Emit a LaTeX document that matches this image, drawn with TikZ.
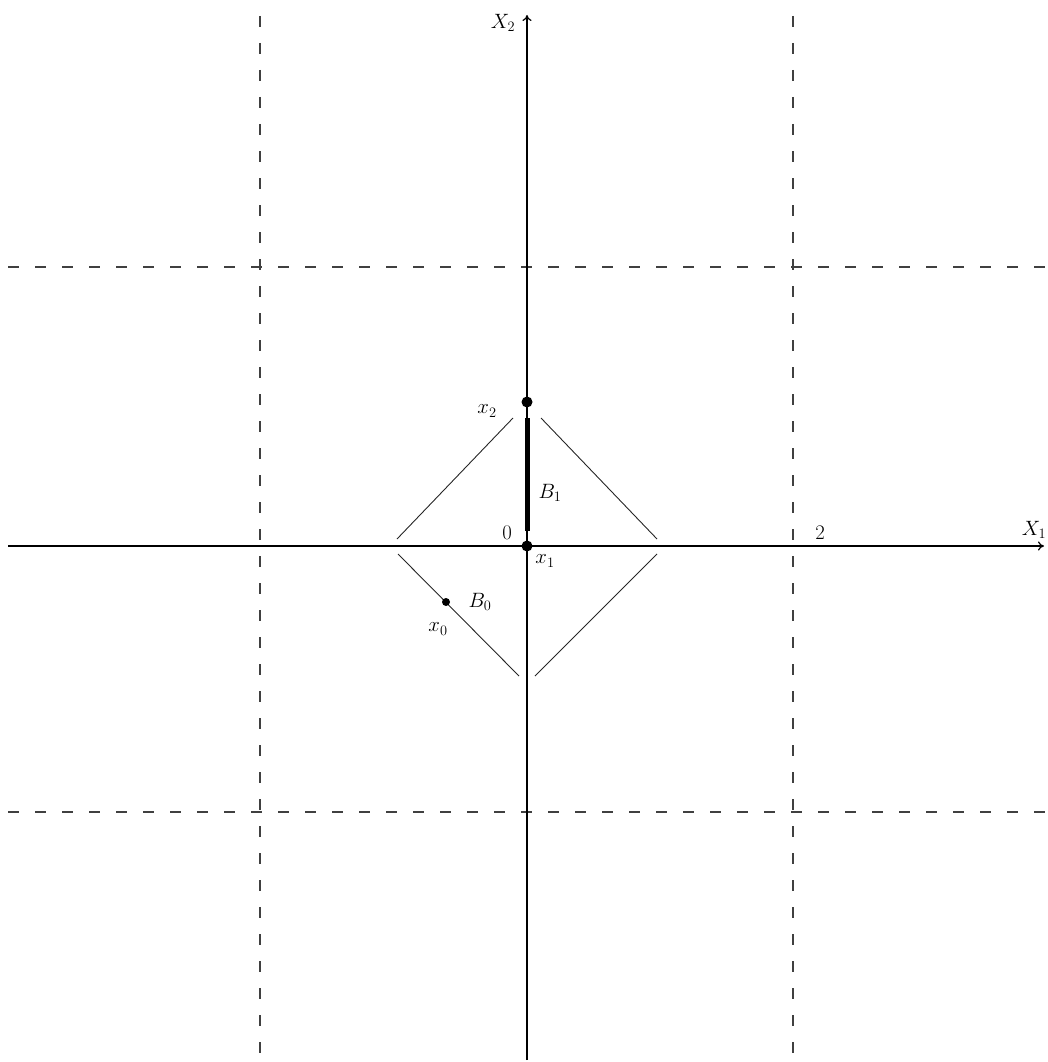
\documentclass[tikz,border=0pt]{standalone}
\usetikzlibrary{arrows.meta}
\begin{document}
\begin{tikzpicture}[x=1pt,y=-1pt,
  grid/.style={draw=black!75,line width=1.2pt,dash pattern=on 11pt off 16pt},
  axis/.style={draw=black,line width=2pt,-{To[length=6pt,width=9pt,line width=1.2pt,open]}},
  thin/.style={draw=black!85,line width=0.9pt},
  lbl/.style={font=\fontsize{20}{24}\selectfont,inner sep=0pt},
  dot/.style={circle,fill=black,inner sep=0pt,minimum size=#1}]
\useasboundingbox (0,0) rectangle (1047,1062);
% grid
\draw[grid] (260,16) -- (260,1062);
\draw[grid] (793,16) -- (793,1062);
\draw[grid] (8,267) -- (1047,267);
\draw[grid] (8,812) -- (1047,812);
% axes
\coordinate (xs) at (8,546);
\coordinate (xe) at (1044,546);
\coordinate (ys) at (527,1060);
\coordinate (ye) at (527,15);
\draw[axis] (xs) -- (xe);
\draw[axis] (ys) -- (ye);
% B1 thick segment
\coordinate (b1a) at (527,418);
\coordinate (b1b) at (527,531);
\draw[line width=5pt] (b1a) -- (b1b);
% diamond
\coordinate (ul1) at (397,539); \coordinate (ul2) at (513,418);
\coordinate (ur1) at (541,418); \coordinate (ur2) at (657,539);
\coordinate (ll1) at (398,554); \coordinate (ll2) at (519,676);
\coordinate (lr1) at (535,676); \coordinate (lr2) at (657,554);
\draw[thin] (ul1) -- (ul2);
\draw[thin] (ur1) -- (ur2);
\draw[thin] (ll1) -- (ll2);
\draw[thin] (lr1) -- (lr2);
% dots
\node[dot=11pt] (x2) at (527,402) {};
\node[dot=11pt] (x1) at (527,546) {};
\node[dot=8pt] (x0) at (446,602) {};
% labels
\node[lbl] (lx2) at (487,411) {$x_2$};
\node[lbl] (lb1) at (550,493) {$B_1$};
\node[lbl] (l0) at (507,533) {$0$};
\node[lbl] (lx1) at (545,561) {$x_1$};
\node[lbl] (l2) at (820,533) {$2$};
\node[lbl] (lX1) at (1034,530) {$X_1$};
\node[lbl] (lX2) at (503,23) {$X_2$};
\node[lbl] (lb0) at (480,602) {$B_0$};
\node[lbl] (lx0) at (438,629) {$x_0$};
\end{tikzpicture}
\end{document}
